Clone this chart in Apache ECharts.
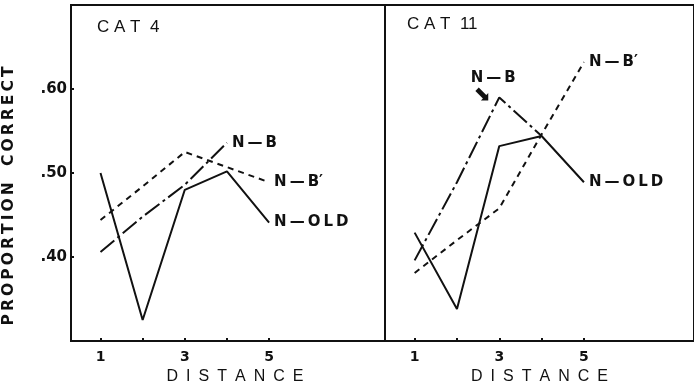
<!DOCTYPE html>
<html>
<head>
<meta charset="utf-8">
<script src="https://cdn.jsdelivr.net/npm/echarts@6/dist/echarts.min.js"></script>
<style>
  html, body { margin: 0; padding: 0; background: #fff; }
  #chart { width: 694px; height: 392px; }
</style>
</head>
<body>
<div id="chart"></div>
<script>
// Serial distance (x) and proportion correct (y) for two categories
const distance = [1, 2, 3, 4, 5];
const xTickLabels = [1, 3, 5];
const yTickLabels = [0.40, 0.50, 0.60];

const cat4NOld   = [0.500, 0.325, 0.480, 0.502, 0.441];
const cat4NB     = [0.406, 0.448, 0.486, 0.536];
const cat4NBp    = [0.444, 0.484, 0.525, 0.507, 0.489];

const cat11NOld  = [0.429, 0.338, 0.532, 0.544, 0.489];
const cat11NB    = [0.396, 0.489, 0.590, 0.544];
const cat11NBp   = [0.381, 0.420, 0.458, 0.546, 0.632];

const panelTitles = ['C A T  4', 'C A T  11'];
const names = {
  nold: 'N\u2009\u2014\u2009O\u2009L\u2009D',
  nb:   'N\u2009\u2014\u2009B',
  nbp:  'N\u2009\u2014\u2009B\u2032'
};

const ink = '#111';
const boldFont = '"DejaVu Sans", sans-serif';
const plainFont = '"Liberation Sans", Arial, sans-serif';

const pairs = arr => arr.map((v, i) => [distance[i], v]);

const solid   = { color: ink, width: 2, type: 'solid' };
const dashDot = { color: ink, width: 2, type: [18, 4, 3, 4] };
const dashed  = { color: ink, width: 2, type: [6, 5] };

function endLabel(text) {
  return {
    show: true, formatter: text, distance: 5,
    color: ink, fontFamily: boldFont, fontWeight: 'bold', fontSize: 15
  };
}

function lineSeries(idx, data, style, label) {
  const s = {
    type: 'line', xAxisIndex: idx, yAxisIndex: idx,
    data: pairs(data), showSymbol: false, symbol: 'none',
    lineStyle: style, silent: true
  };
  if (label) s.endLabel = endLabel(label);
  return s;
}

function xAxis(idx, max) {
  return {
    type: 'value', gridIndex: idx, min: 0.3, max: max,
    name: 'D\u2002I\u2002S\u2002T\u2002A\u2002N\u2002C\u2002E',
    nameLocation: 'middle', nameGap: 27,
    nameTextStyle: { color: ink, fontFamily: plainFont, fontSize: 16,
                     padding: idx === 0 ? [0, 0, 0, 14] : [0, 0, 0, 0] },
    axisLine: { show: true, lineStyle: { color: ink, width: 2 } },
    axisTick: { show: true, inside: true, length: 3, customValues: distance,
                lineStyle: { color: ink, width: 2 } },
    axisLabel: { show: true, customValues: xTickLabels, margin: 9,
                 color: ink, fontFamily: boldFont, fontWeight: 'bold', fontSize: 14 },
    splitLine: { show: false }
  };
}

function yAxis(idx) {
  const ax = {
    type: 'value', gridIndex: idx, min: 0.30, max: 0.70,
    axisLine: { show: true, lineStyle: { color: ink, width: 2 } },
    splitLine: { show: false },
    axisTick: { show: idx === 0, inside: true, length: 3, customValues: yTickLabels,
                lineStyle: { color: ink, width: 2 } },
    axisLabel: { show: idx === 0, customValues: yTickLabels, margin: 4,
                 formatter: v => v.toFixed(2).replace(/^0/, ''),
                 color: ink, fontFamily: boldFont, fontWeight: 'bold', fontSize: 15 }
  };
  if (idx === 0) {
    ax.name = 'P\u2009R\u2009O\u2009P\u2009O\u2009R\u2009T\u2009I\u2009O\u2009N   C\u2009O\u2009R\u2009R\u2009E\u2009C\u2009T';
    ax.nameLocation = 'middle';
    ax.nameRotate = 90;
    ax.nameGap = 54;
    ax.nameTextStyle = { color: ink, fontFamily: boldFont, fontWeight: 'bold', fontSize: 15.5,
                         padding: [0, 46, 0, 0] };
  }
  return ax;
}

const chart = echarts.init(document.getElementById('chart'), null, { renderer: 'canvas' });

// right-panel N-B label sits above its peak, with a bold arrow pointing at it
const nbRight = lineSeries(1, cat11NB, dashDot, null);
nbRight.markPoint = {
  symbol: 'circle', symbolSize: 0, silent: true, animation: false,
  data: [
    { coord: [distance[2], cat11NB[2]],
      label: { show: true, formatter: names.nb, position: 'top', distance: 5, offset: [-6, -7],
               color: ink, fontFamily: boldFont, fontWeight: 'bold', fontSize: 15 } },
    { coord: [distance[2], cat11NB[2]],
      label: { show: true, formatter: '\u2B0A', position: 'inside', offset: [-17, -2],
               color: ink, fontFamily: boldFont, fontSize: 21 } }
  ]
};

chart.setOption({
  animation: false,
  backgroundColor: '#fff',
  title: [
    { text: panelTitles[0], left: 92, top: 14,
      textStyle: { color: ink, fontFamily: plainFont, fontWeight: 'normal', fontSize: 17 } },
    { text: panelTitles[1], left: 402, top: 11,
      textStyle: { color: ink, fontFamily: plainFont, fontWeight: 'normal', fontSize: 17 } }
  ],
  grid: [
    { left: 70, top: 5, width: 315, height: 336, show: true, borderColor: ink, borderWidth: 2, backgroundColor: 'transparent' },
    { left: 385, top: 5, width: 310, height: 336, show: true, borderColor: ink, borderWidth: 2, backgroundColor: 'transparent' }
  ],
  xAxis: [xAxis(0, 7.75), xAxis(1, 7.6)],
  yAxis: [yAxis(0), yAxis(1)],
  series: [
    lineSeries(0, cat4NOld, solid, names.nold),
    lineSeries(0, cat4NB, dashDot, names.nb),
    lineSeries(0, cat4NBp, dashed, names.nbp),
    lineSeries(1, cat11NOld, solid, names.nold),
    nbRight,
    lineSeries(1, cat11NBp, dashed, names.nbp)
  ]
});
</script>
</body>
</html>
